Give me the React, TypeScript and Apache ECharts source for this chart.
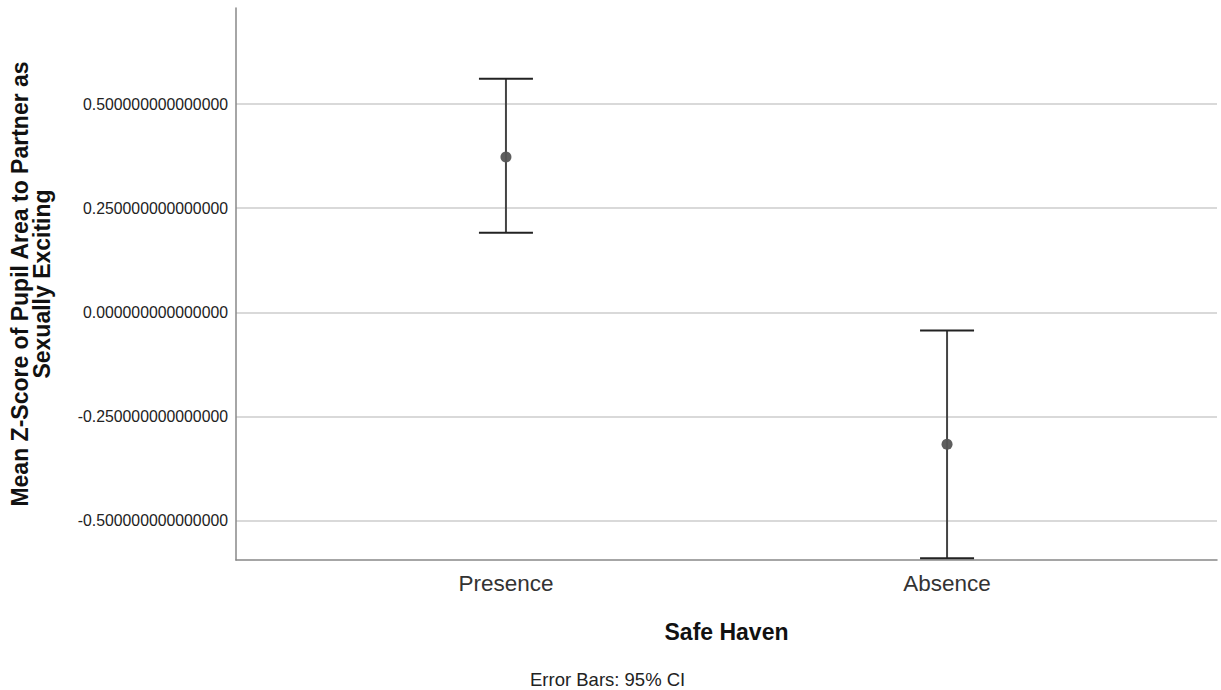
import React, { useEffect, useRef } from "react";
import * as echarts from "echarts";

const categories = ["Presence", "Absence"];
const means = [0.373, -0.317];
const lowers = [0.191, -0.591];
const uppers = [0.561, -0.044];
const yTicks = [-0.5, -0.25, 0, 0.25, 0.5];

export default function App() {
  const ref = useRef<HTMLDivElement>(null);
  useEffect(() => {
    if (!ref.current) return;
    const chart = echarts.init(ref.current, null, { renderer: "svg" });
    const font = "'Liberation Sans', Arial, sans-serif";
    chart.setOption({
      animation: false,
      textStyle: { fontFamily: font },
      grid: { left: 236, right: 4, top: 8, bottom: 130 },
      xAxis: {
        type: "value",
        min: -0.612,
        max: 1.612,
        name: "Safe Haven",
        nameLocation: "middle",
        nameGap: 60,
        nameTextStyle: { fontSize: 23, fontWeight: "bold", color: "#111", fontFamily: font },
        axisLine: { show: true, onZero: false, lineStyle: { color: "#888", width: 1.5 } },
        axisTick: { show: false },
        splitLine: { show: false },
        axisLabel: {
          customValues: [0, 1],
          formatter: (v: number) => categories[Math.round(v)] ?? "",
          fontSize: 22.5,
          color: "#333",
          margin: 12,
          fontFamily: font,
        },
      },
      yAxis: {
        type: "value",
        min: -0.595,
        max: 0.731,
        name: "Mean Z-Score of Pupil Area to Partner as\nSexually Exciting",
        nameLocation: "middle",
        nameGap: 183,
        nameTextStyle: { fontSize: 23, fontWeight: "bold", color: "#111", fontFamily: font, lineHeight: 22 },
        axisLine: { show: true, onZero: false, lineStyle: { color: "#888", width: 1.5 } },
        axisTick: { show: false, customValues: yTicks },
        splitLine: { show: true, lineStyle: { color: "#ccc", width: 1.5 } },
        axisLabel: {
          customValues: yTicks,
          formatter: (v: number) => v.toFixed(15),
          fontSize: 15.8,
          color: "#222",
          margin: 8,
          fontFamily: font,
        },
      },
      series: [
        {
          type: "custom",
          data: categories.map((_, i) => [i, lowers[i], uppers[i]]),
          encode: { x: 0, y: [1, 2] },
          renderItem: (params: any, api: any) => {
            const x = api.value(0);
            const lo = api.coord([x, api.value(1)]);
            const hi = api.coord([x, api.value(2)]);
            const hw = 27;
            return {
              type: "group",
              children: [
                { type: "line", shape: { x1: lo[0], y1: lo[1], x2: hi[0], y2: hi[1] }, style: { stroke: "#444", lineWidth: 2 } },
                { type: "line", shape: { x1: lo[0] - hw, y1: lo[1], x2: lo[0] + hw, y2: lo[1] }, style: { stroke: "#222", lineWidth: 2 } },
                { type: "line", shape: { x1: hi[0] - hw, y1: hi[1], x2: hi[0] + hw, y2: hi[1] }, style: { stroke: "#222", lineWidth: 2 } },
              ],
            };
          },
          z: 2,
        },
        {
          type: "scatter",
          data: categories.map((_, i) => [i, means[i]]),
          symbol: "circle",
          symbolSize: 11,
          itemStyle: { color: "#555", opacity: 0.95 },
          z: 3,
        },
      ],
      graphic: [
        {
          type: "text",
          left: 530,
          top: 670,
          style: { text: "Error Bars: 95% CI", fontSize: 18.5, fill: "#222", fontFamily: font },
        },
      ],
    });
    return () => chart.dispose();
  }, []);
  return <div ref={ref} style={{ position: "fixed", left: 0, top: 0, width: 1221, height: 690, background: "#fff" }} />;
}
